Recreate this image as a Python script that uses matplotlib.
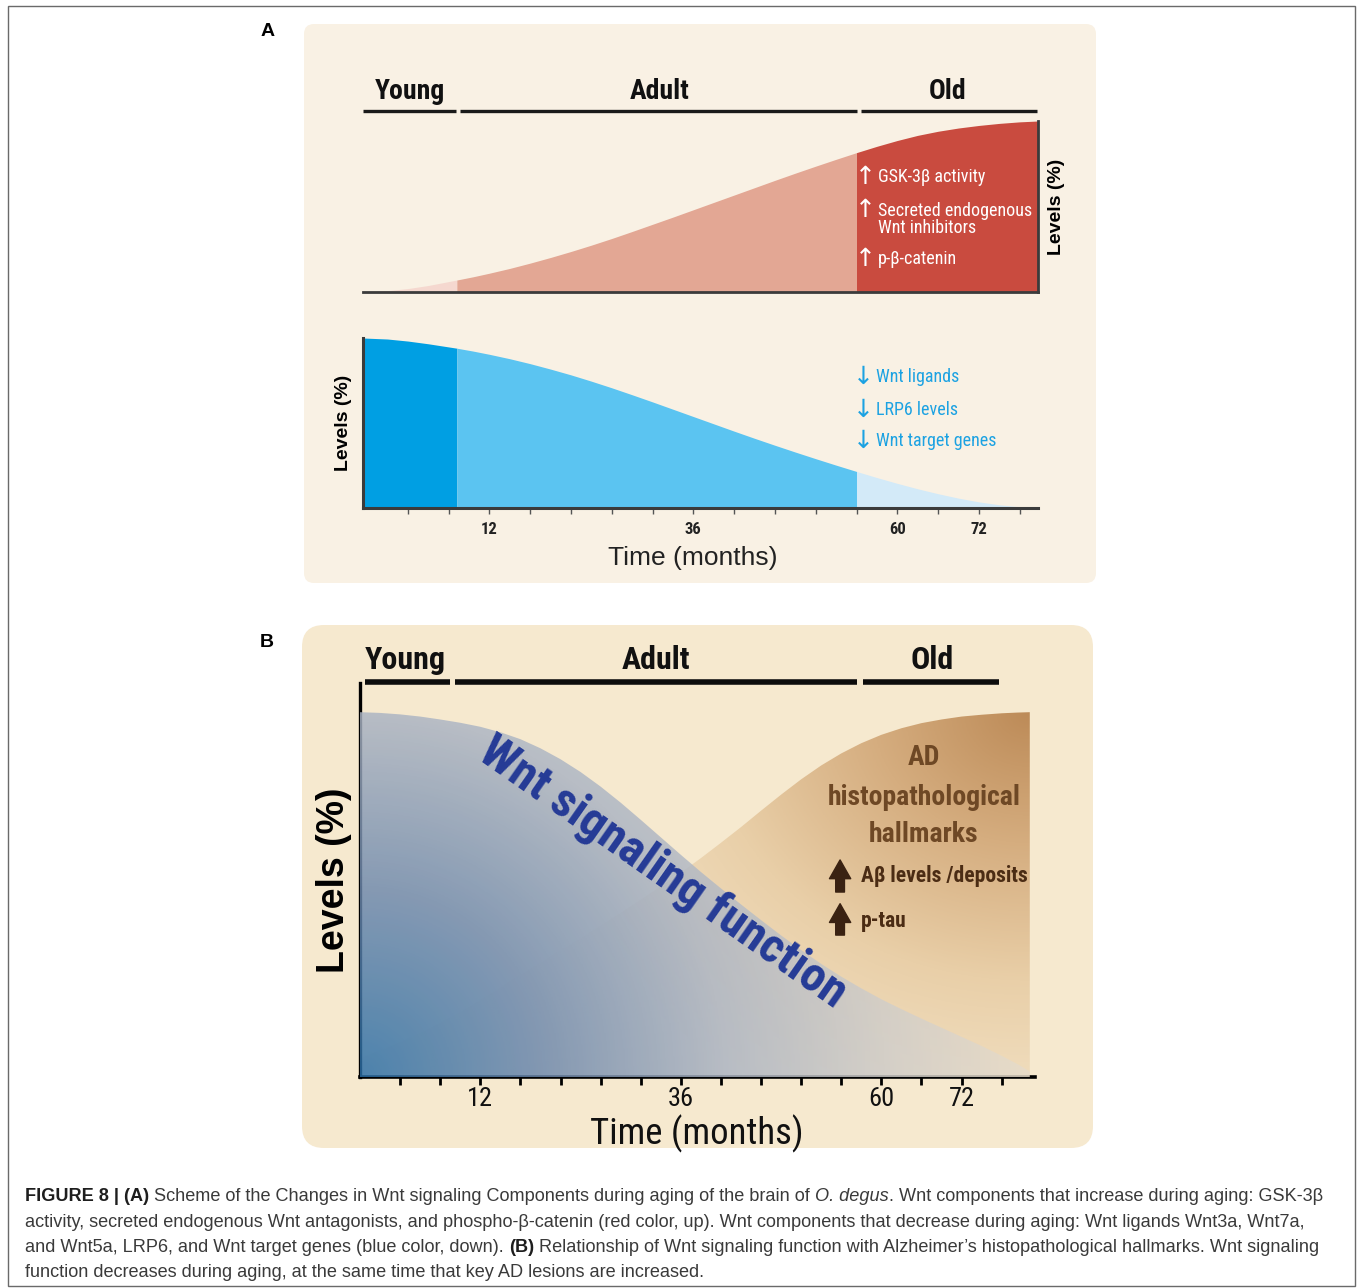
import numpy as np
import matplotlib
matplotlib.use('Agg')
import matplotlib.pyplot as plt
from matplotlib import font_manager
from matplotlib.patches import FancyBboxPatch, Rectangle, FancyArrowPatch
from matplotlib.colors import LinearSegmentedColormap

# ---------------- data ----------------
# x positions are in "tick index" units of the drawn time axis (one unit per tick mark)
tick_positions = list(range(1, 17))
tick_label_pos = [3, 8, 13, 15]
tick_label_txt = ['12', '36', '60', '72']
phases = ['Young', 'Adult', 'Old']

# Panel A
a_t = [-0.1, 0.5, 1.0, 1.5, 2.2, 2.6, 3, 3.5, 4, 4.5, 5, 5.5, 6, 6.5, 7, 7.5, 8, 8.5, 9, 9.5,
       10, 10.5, 11, 11.5, 12, 12.5, 13, 13.5, 14, 14.5, 15, 15.5, 16, 16.45]
a_red = [0, 0.8, 2.0, 3.8, 7.0, 8.9, 11, 13.8, 16.9, 20.2, 23.7, 27.4, 31.3, 35.4, 39.6, 43.8,
         48.1, 52.4, 56.7, 61, 65.3, 69.5, 73.6, 77.6, 81.5, 85.2, 88.6, 91.6, 94.0, 95.9, 97.4,
         98.6, 99.5, 100]
a_blue = [100, 99.4, 98.2, 96.6, 94, 92.3, 90.4, 87.8, 84.9, 81.7, 78.3, 74.6, 70.7, 66.6, 62.4,
          58.1, 53.8, 49.5, 45.2, 41, 36.9, 32.9, 29, 25.2, 21.5, 17.9, 14.5, 11.3, 8.4, 5.8, 3.6,
          1.9, 0.7, 0]
a_phase_bounds = [2.2, 12]
a_bars = [(-0.1, 2.18), (2.28, 12.0), (12.1, 16.42)]
a_up_items = ['GSK-3β activity', 'Secreted endogenous\nWnt inhibitors', 'p-β-catenin']
a_down_items = ['Wnt ligands', 'LRP6 levels', 'Wnt target genes']

# Panel B
b_t = [0, 0.5, 1, 1.5, 2, 2.5, 3, 3.5, 4, 4.5, 5, 5.5, 6, 6.5, 7, 7.5, 8, 8.5, 9, 9.5, 10, 10.5,
       11, 11.5, 12, 12.5, 13, 13.5, 14, 14.5, 15, 15.5, 16, 16.4, 16.7]
b_wnt = [100, 99.8, 99.4, 98.8, 98, 97.1, 96, 94.5, 92.6, 90.1, 87.1, 83.6, 79.6, 75.2, 70.5,
         65.7, 60.9, 56.2, 51.7, 47.3, 43, 38.8, 34.8, 31, 27.5, 24.3, 21.3, 18.6, 16, 13.5, 11,
         8.5, 5.8, 3.5, 1.5]
b_ad = [5, 7.2, 9.5, 12.1, 14.8, 17.8, 21, 24.4, 28, 31.3, 34.7, 38, 41.5, 45, 48.6, 52.3, 56,
        60, 64.2, 68.5, 73, 77.4, 81.6, 85.4, 88.7, 91.5, 93.8, 95.6, 97, 98, 98.8, 99.3, 99.7,
        99.9, 100]
b_bars = [(0.12, 2.24), (2.37, 12.4), (12.54, 15.94)]
b_ad_title = ['AD', 'histopathological', 'hallmarks']
b_ad_items = ['Aβ levels /deposits', 'p-tau']

caption_lines = [
    [("FIGURE 8 | (A)", 'bold'),
     (" Scheme of the Changes in Wnt signaling Components during aging of the brain of ", 'normal'),
     ("O. degus", 'italic'),
     (". Wnt components that increase during aging: GSK-3β", 'normal')],
    [("activity, secreted endogenous Wnt antagonists, and phospho-β-catenin (red color, up). "
      "Wnt components that decrease during aging: Wnt ligands Wnt3a, Wnt7a,", 'normal')],
    [("and Wnt5a, LRP6, and Wnt target genes (blue color, down). ", 'normal'),
     ("(B)", 'bold'),
     (" Relationship of Wnt signaling function with Alzheimer’s histopathological hallmarks. Wnt signaling", 'normal')],
    [("function decreases during aging, at the same time that key AD lesions are increased.", 'normal')],
]

# ---------------- fonts ----------------
names = {f.name for f in font_manager.fontManager.ttflist}
def pick(cands):
    for c in cands:
        if c in names:
            return c
    return 'DejaVu Sans'
NARROW = [pick(['Liberation Sans Narrow', 'Roboto Condensed', 'Open Sans Condensed', 'Liberation Sans']), 'DejaVu Sans']
ARIAL = [pick(['Liberation Sans', 'Arimo']), 'DejaVu Sans']

W, H = 1357, 1288
fig = plt.figure(figsize=(W / 100, H / 100), dpi=100)
fig.patch.set_facecolor('white')

def fx(x): return x / W
def fy(y): return 1 - y / H

# overlay in pixel coordinates
over = fig.add_axes([0, 0, 1, 1], zorder=-10)
over.set_xlim(0, W); over.set_ylim(H, 0); over.axis('off')
over.add_patch(Rectangle((8, 6), 1347, 1280, fill=False, ec='#6a6a6a', lw=1.0))
over.add_patch(FancyBboxPatch((304, 24), 792, 559, boxstyle='round,pad=0,rounding_size=10',
                              fc='#f9f1e4', ec='none'))
over.add_patch(FancyBboxPatch((302, 625), 791, 523, boxstyle='round,pad=0,rounding_size=22',
                              fc='#f6e9cf', ec='none'))
over.text(268, 31, 'A', fontsize=14, fontweight='bold', family=ARIAL, ha='center', va='center')
over.text(267, 642, 'B', fontsize=14, fontweight='bold', family=ARIAL, ha='center', va='center')

SPINE = '#3b3b3b'

# ---------------- Panel A, top (red) ----------------
axA1 = fig.add_axes([fx(363), fy(292), 675 / W, (292 - 121) / H])
axA1.set_facecolor('none')
i1, i2 = a_t.index(a_phase_bounds[0]), a_t.index(a_phase_bounds[1])
red_cols = ['#f5d8cf', '#e3a794', '#c94b3f']
for (s, e), c in zip([(0, i1 + 1), (i1, i2 + 1), (i2, len(a_t))], red_cols):
    axA1.fill_between(a_t[s:e], a_red[s:e], color=c, lw=0)
axA1.set_xlim(-0.1, 16.45); axA1.set_ylim(0, 100)
for sp in ['top', 'left']:
    axA1.spines[sp].set_visible(False)
for sp in ['bottom', 'right']:
    axA1.spines[sp].set_color(SPINE); axA1.spines[sp].set_linewidth(2.0)
axA1.set_xticks([]); axA1.set_yticks([])
axA1.yaxis.set_label_position('right')
axA1.set_ylabel('Levels (%)', fontsize=14, fontweight='bold', family=ARIAL, labelpad=7, rotation=90)
for (x0, x1) in a_bars:
    axA1.plot([x0, x1], [105.8, 105.8], color='#1a1a1a', lw=2.4, solid_capstyle='butt', clip_on=False)
for name, xc in zip(phases, [1.05, 7.16, 14.24]):
    axA1.text(xc, 117, name, fontsize=20, fontweight='bold', family=NARROW, ha='center', va='center',
              color='#111111')
up_y = [67.3, 42.2, 19.3]
for txt, y in zip(a_up_items, up_y):
    axA1.text(12.23, y + (0 if '\n' not in txt else 5.8), '↑', fontsize=18, family=NARROW, color='white',
              ha='center', va='center')
    axA1.text(12.52, y, txt, fontsize=13, family=NARROW, color='white', ha='left', va='center',
              linespacing=0.95)

# ---------------- Panel A, bottom (blue) ----------------
axA2 = fig.add_axes([fx(363), fy(508), 675 / W, (508 - 338) / H])
axA2.set_facecolor('none')
blue_cols = ['#009fe3', '#5bc4f1', '#d3eaf8']
for (s, e), c in zip([(0, i1 + 1), (i1, i2 + 1), (i2, len(a_t))], blue_cols):
    axA2.fill_between(a_t[s:e], a_blue[s:e], color=c, lw=0)
axA2.set_xlim(-0.1, 16.45); axA2.set_ylim(0, 100)
for sp in ['top', 'right']:
    axA2.spines[sp].set_visible(False)
for sp in ['bottom', 'left']:
    axA2.spines[sp].set_color(SPINE); axA2.spines[sp].set_linewidth(2.2)
lab_map = dict(zip(tick_label_pos, tick_label_txt))
axA2.set_xticks(tick_positions)
axA2.set_xticklabels([lab_map.get(p, '') for p in tick_positions], fontsize=12, fontweight='bold',
                     family=NARROW, color='#222222')
axA2.tick_params(axis='x', direction='out', length=4, width=1, color='#555555', pad=6)
axA2.set_yticks([])
axA2.set_ylabel('Levels (%)', fontsize=14, fontweight='bold', family=ARIAL, labelpad=8)
axA2.set_xlabel('Time (months)', fontsize=19, family=ARIAL, color='#222222')
axA2.xaxis.set_label_coords((693 - 363) / 675, (508 - 558) / 170)
axA2.xaxis.label.set_va('center')
for txt, y in zip(a_down_items, [77.0, 57.6, 39.3]):
    axA2.text(12.16, y, '↓', fontsize=18, family=NARROW, color='#1ca2e2', ha='center', va='center')
    axA2.text(12.48, y, txt, fontsize=13, family=NARROW, color='#1ca2e2', ha='left', va='center')

# ---------------- Panel B ----------------
axB = fig.add_axes([fx(360), fy(1077), 675 / W, (1077 - 683) / H])
axB.set_facecolor('none')
XMAX, YMAX = 16.83, 108
gx = np.linspace(0, XMAX, 500); gy = np.linspace(0, YMAX, 400)
GX, GY = np.meshgrid(gx, gy)
px_x, px_y = 675 / XMAX, 394 / YMAX

tan_cmap = LinearSegmentedColormap.from_list('tan', [(0, '#bd8b58'), (0.3, '#d5ad7f'),
                                                     (0.62, '#e9cfa8'), (1, '#f4e5ca')])
rt = np.hypot((16.7 - GX) * px_x, (100 - GY) * px_y * 1.2)
imt = axB.imshow(rt, extent=(0, XMAX, 0, YMAX), origin='lower', cmap=tan_cmap, vmin=0, vmax=520,
                 aspect='auto', zorder=2, interpolation='bilinear')
pt = axB.fill_between(b_t, b_ad, color='none', lw=0)
imt.set_clip_path(pt.get_paths()[0], axB.transData)

blue_cmap = LinearSegmentedColormap.from_list('blu', [(0, '#2a6ea6'), (0.26, '#6c88ad'),
                                                      (0.52, '#abb4c3'), (0.75, '#cfcdca'),
                                                      (1, '#ecdfca')])
rb = np.hypot(GX * px_x, GY * px_y)
imb = axB.imshow(rb, extent=(0, XMAX, 0, YMAX), origin='lower', cmap=blue_cmap, vmin=0, vmax=700,
                 aspect='auto', zorder=3, alpha=0.83, interpolation='bilinear')
pb = axB.fill_between(b_t, b_wnt, color='none', lw=0)
imb.set_clip_path(pb.get_paths()[0], axB.transData)

axB.set_xlim(0, XMAX); axB.set_ylim(0, YMAX)
for sp in ['top', 'right']:
    axB.spines[sp].set_visible(False)
axB.spines['left'].set_linewidth(2.4); axB.spines['bottom'].set_linewidth(2.6)
axB.spines['left'].set_color('black'); axB.spines['bottom'].set_color('black')
axB.set_xticks(tick_positions)
axB.set_xticklabels([lab_map.get(p, '') for p in tick_positions], fontsize=19, family=NARROW,
                    color='#111111')
axB.tick_params(axis='x', direction='out', length=6, width=2, color='black', pad=1.5)
axB.set_yticks([])
axB.set_ylabel('Levels (%)', fontsize=27, fontweight='bold', family=ARIAL, labelpad=6)
axB.set_xlabel('Time (months)', fontsize=26.5, family=NARROW, color='#111111')
axB.xaxis.set_label_coords((697 - 360) / 675, (1077 - 1134) / 394)
axB.xaxis.label.set_va('center')

for (x0, x1) in b_bars:
    axB.plot([x0, x1], [108.3, 108.3], color='#0d0d0d', lw=4, solid_capstyle='butt', clip_on=False)
for name, xc in zip(phases, [1.12, 7.38, 14.26]):
    axB.text(xc, 114.2, name, fontsize=23, fontweight='bold', family=NARROW, ha='center', va='center',
             color='#111111')

axB.text(7.55, 56.0, 'Wnt signaling function', rotation=-35, fontsize=35, fontweight='bold',
         family=NARROW, color='#253b96', ha='center', va='center', zorder=6,
         rotation_mode='anchor')

for txt, y in zip(b_ad_title, [87.7, 76.7, 66.6]):
    axB.text(14.06, y, txt, fontsize=20, fontweight='bold', family=NARROW, color='#6e4825',
             ha='center', va='center', zorder=6)
for txt, y0, y1, yt in zip(b_ad_items, [50.7, 38.9], [59.5, 47.5], [55.1, 42.7]):
    axB.add_patch(FancyArrowPatch((11.97, y0), (11.97, y1),
                                  arrowstyle='simple,head_length=0.75,head_width=0.85,tail_width=0.35',
                                  mutation_scale=18, color='#3a2212', shrinkA=0, shrinkB=0,
                                  zorder=6))
    axB.text(12.49, yt, txt, fontsize=15.5, fontweight='bold', family=NARROW, color='#4b2c14',
             ha='left', va='center', zorder=6)

# ---------------- caption ----------------
fig.canvas.draw()
r = fig.canvas.get_renderer()
CAP = 13.05
def wid(s, weight='normal', style='normal'):
    t = over.text(0, 0, s, fontsize=CAP, family=ARIAL, fontweight=weight, fontstyle=style)
    w = t.get_window_extent(renderer=r).width
    t.remove()
    return w
space_w = wid('a a') - wid('aa')
for li, (segs, yb) in enumerate(zip(caption_lines, [1201, 1227, 1252, 1277])):
    x = 25
    for s, st in segs:
        lead = len(s) - len(s.lstrip(' ')); trail = len(s) - len(s.rstrip(' '))
        core = s.strip(' ')
        x += lead * space_w
        weight = 'bold' if st == 'bold' else 'normal'
        style = 'italic' if st == 'italic' else 'normal'
        col = '#1e1e1e' if st == 'bold' else '#3a3a3a'
        t = over.text(x, yb, core, fontsize=CAP, family=ARIAL, fontweight=weight, fontstyle=style,
                      va='baseline', ha='left', color=col)
        x += t.get_window_extent(renderer=r).width + trail * space_w

fig.savefig('out.png', dpi=100, facecolor='white')
